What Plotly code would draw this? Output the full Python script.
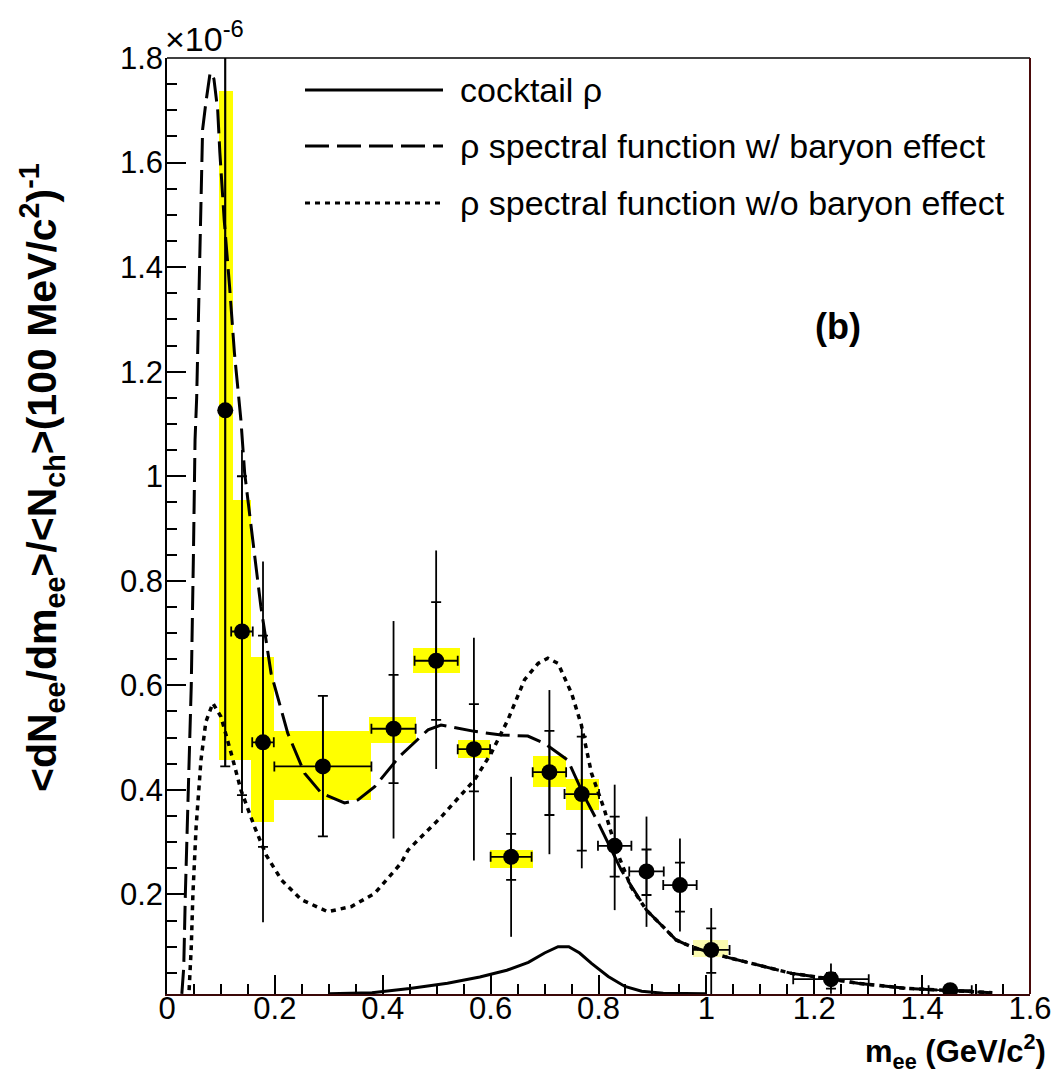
import plotly.graph_objects as go

# ---------------- data (y in units of 1e-6) ----------------
# data points
pt_x = [0.108, 0.139, 0.178, 0.289, 0.420, 0.499, 0.569, 0.638, 0.709, 0.769,
        0.830, 0.889, 0.951, 1.009, 1.231, 1.452]
pt_y = [1.126, 0.703, 0.491, 0.445, 0.517, 0.647, 0.478, 0.272, 0.434, 0.392,
        0.293, 0.244, 0.218, 0.094, 0.038, 0.017]
# total error band ends (outer line)
tot_hi = [2.00, 1.05, 0.837, 0.580, 0.723, 0.858, 0.691, 0.425, 0.591, 0.524,
          0.410, 0.349, 0.307, 0.174, 0.068, 0.030]
tot_lo = [0.445, 0.356, 0.147, 0.311, 0.307, 0.440, 0.265, 0.119, 0.277, 0.250,
          0.170, 0.138, 0.129, 0.000, 0.010, 0.005]
# statistical error ends (small ticks)
stat_hi = [2.00, 1.00, 0.695, 0.580, 0.620, 0.759, 0.564, 0.316, 0.513, 0.502,
           0.349, 0.286, 0.261, 0.135, 0.050, 0.025]
stat_lo = [0.445, 0.390, 0.291, 0.311, 0.413, 0.534, 0.397, 0.228, 0.352, 0.284,
           0.234, 0.199, 0.167, 0.050, 0.020, 0.010]
# horizontal half widths
x_err = [0.0, 0.020, 0.020, 0.090, 0.041, 0.040, 0.030, 0.038, 0.031, 0.032,
         0.031, 0.032, 0.031, 0.034, 0.070, 0.040]

# systematic boxes
box_x0 = [0.097, 0.097, 0.156, 0.199, 0.374, 0.456, 0.539, 0.598, 0.678, 0.740, 0.975]
box_x1 = [0.122, 0.156, 0.199, 0.378, 0.462, 0.543, 0.598, 0.678, 0.740, 0.800, 1.040]
box_y0 = [0.520, 0.457, 0.339, 0.381, 0.490, 0.623, 0.461, 0.250, 0.406, 0.362, 0.080]
box_y1 = [1.736, 0.955, 0.655, 0.512, 0.540, 0.671, 0.496, 0.285, 0.464, 0.420, 0.113]

# rho spectral function with baryon effect (dashed)
wb_x = [0.0275, 0.031, 0.034, 0.040, 0.045, 0.049, 0.052, 0.055, 0.060, 0.063,
        0.066, 0.072, 0.080, 0.087, 0.094, 0.098, 0.106, 0.116, 0.125, 0.137,
        0.144, 0.159, 0.174, 0.193, 0.224, 0.255, 0.286, 0.329, 0.354, 0.385,
        0.416, 0.431, 0.484, 0.508, 0.570, 0.620, 0.669, 0.700, 0.743, 0.774,
        0.800, 0.818, 0.842, 0.889, 0.944, 0.972, 1.034, 1.096, 1.158, 1.220,
        1.281, 1.374, 1.467, 1.530]
wb_y = [0.010, 0.060, 0.200, 0.450, 0.600, 0.850, 1.070, 1.150, 1.395, 1.555,
        1.663, 1.714, 1.772, 1.760, 1.700, 1.619, 1.491, 1.363, 1.236, 1.108,
        1.006, 0.878, 0.751, 0.623, 0.508, 0.432, 0.394, 0.375, 0.381, 0.406,
        0.445, 0.464, 0.515, 0.524, 0.512, 0.505, 0.503, 0.489, 0.457, 0.387,
        0.336, 0.298, 0.247, 0.170, 0.113, 0.100, 0.081, 0.065, 0.049, 0.040,
        0.030, 0.020, 0.016, 0.012]

# rho spectral function without baryon effect (dotted)
nb_x = [0.041, 0.045, 0.048, 0.054, 0.063, 0.072, 0.085, 0.100, 0.119, 0.137,
        0.162, 0.184, 0.212, 0.249, 0.298, 0.342, 0.385, 0.434, 0.447, 0.509,
        0.570, 0.601, 0.632, 0.663, 0.688, 0.706, 0.725, 0.750, 0.768, 0.787,
        0.811, 0.833, 0.860, 0.889, 0.944, 0.972, 1.034, 1.096, 1.158, 1.220,
        1.281, 1.374, 1.467, 1.530]
nb_y = [0.017, 0.100, 0.200, 0.330, 0.457, 0.530, 0.566, 0.540, 0.470, 0.400,
        0.330, 0.275, 0.228, 0.190, 0.167, 0.177, 0.202, 0.260, 0.285, 0.349,
        0.419, 0.470, 0.534, 0.611, 0.642, 0.652, 0.642, 0.585, 0.525, 0.432,
        0.362, 0.285, 0.215, 0.170, 0.113, 0.100, 0.081, 0.065, 0.049, 0.040,
        0.030, 0.020, 0.016, 0.012]

# cocktail rho (solid)
ck_x = [0.300, 0.380, 0.450, 0.520, 0.580, 0.630, 0.670, 0.700, 0.725, 0.745,
        0.765, 0.787, 0.818, 0.849, 0.880, 0.920, 1.000]
ck_y = [0.010, 0.012, 0.020, 0.030, 0.042, 0.055, 0.070, 0.088, 0.100, 0.100,
        0.088, 0.068, 0.043, 0.024, 0.015, 0.011, 0.010]

x_ticks = [0, 0.2, 0.4, 0.6, 0.8, 1.0, 1.2, 1.4, 1.6]
x_ticktext = ["0", "0.2", "0.4", "0.6", "0.8", "1", "1.2", "1.4", "1.6"]
y_ticks = [0.2, 0.4, 0.6, 0.8, 1.0, 1.2, 1.4, 1.6, 1.8]
y_ticktext = ["0.2", "0.4", "0.6", "0.8", "1", "1.2", "1.4", "1.6", "1.8"]

legend_labels = ["cocktail \u03c1",
                 "\u03c1 spectral function w/ baryon effect",
                 "\u03c1 spectral function w/o baryon effect"]

# ---------------- figure ----------------
W, H = 1062, 1084
L, R, T, B = 159, 40, 50, 98
pw, ph = W - L - R, H - T - B


def px(xp):
    return (xp - L) / pw


def py(yp):
    return (H - B - yp) / ph


FONT = "Liberation Sans, Arial, Helvetica, sans-serif"

fig = go.Figure()

# systematic boxes
fig.add_trace(go.Bar(
    x=[(a + b) / 2 for a, b in zip(box_x0, box_x1)],
    width=[b - a for a, b in zip(box_x0, box_x1)],
    base=box_y0,
    y=[b - a for a, b in zip(box_y0, box_y1)],
    marker=dict(color=["#ffff00"] * 10 + ["#fbfbb0"], line=dict(width=0)),
    showlegend=False, hoverinfo="skip"))

# curves
fig.add_trace(go.Scatter(x=ck_x, y=ck_y, mode="lines",
                         line=dict(color="black", width=3), showlegend=False))
fig.add_trace(go.Scatter(x=nb_x, y=nb_y, mode="lines",
                         line=dict(color="black", width=3.5, dash="5px,5px"),
                         showlegend=False))
fig.add_trace(go.Scatter(x=wb_x, y=wb_y, mode="lines",
                         line=dict(color="black", width=3, dash="24px,8px"),
                         showlegend=False))

# total error lines (no caps)
fig.add_trace(go.Scatter(
    x=pt_x, y=pt_y, mode="markers", marker=dict(size=1, color="rgba(0,0,0,0)"),
    error_y=dict(type="data", symmetric=False,
                 array=[h - y for h, y in zip(tot_hi, pt_y)],
                 arrayminus=[y - l for l, y in zip(tot_lo, pt_y)],
                 width=0, thickness=1.8, color="black"),
    showlegend=False, hoverinfo="skip"))

# statistical errors (ticks) + horizontal bars + markers
fig.add_trace(go.Scatter(
    x=pt_x, y=pt_y, mode="markers",
    marker=dict(size=16, color="black", symbol="circle"),
    error_y=dict(type="data", symmetric=False,
                 array=[h - y for h, y in zip(stat_hi, pt_y)],
                 arrayminus=[y - l for l, y in zip(stat_lo, pt_y)],
                 width=5, thickness=1.8, color="black"),
    error_x=dict(type="data", array=x_err, width=5, thickness=1.8, color="black"),
    showlegend=False))

# ---------------- layout ----------------
fig.update_layout(
    width=W, height=H,
    margin=dict(l=L, r=R, t=T, b=B),
    paper_bgcolor="white", plot_bgcolor="white",
    barmode="overlay", bargap=0,
    font=dict(family=FONT, color="black"),
    xaxis=dict(range=[0, 1.6], showgrid=False, zeroline=False,
               tickvals=x_ticks, ticktext=x_ticktext,
               ticks="inside", ticklen=19, tickwidth=1.5, tickcolor="black",
               minor=dict(dtick=0.05, tick0=0, ticks="inside", ticklen=10,
                          tickwidth=1.5, tickcolor="black", showgrid=False),
               showline=True, linecolor="#3a0808", linewidth=2,
               tickfont=dict(size=31, family=FONT), ticklabelstandoff=-14),
    yaxis=dict(range=[0.0096, 1.8], showgrid=False, zeroline=False,
               tickvals=y_ticks, ticktext=y_ticktext,
               ticks="inside", ticklen=19, tickwidth=1.5, tickcolor="black",
               minor=dict(dtick=0.05, tick0=0, ticks="inside", ticklen=10,
                          tickwidth=1.5, tickcolor="black", showgrid=False),
               showline=True, linecolor="black", linewidth=1.5,
               tickfont=dict(size=31, family=FONT), ticklabelstandoff=-4),
)

# top and right frame lines
fig.add_shape(type="line", xref="paper", yref="paper", x0=0, x1=1, y0=1, y1=1,
              line=dict(color="black", width=1.5))
fig.add_shape(type="line", xref="paper", yref="paper", x0=1, x1=1, y0=0, y1=1,
              line=dict(color="#4a0a0a", width=2))

# manual legend
leg_rows = [82, 138, 195]
leg_dash = ["solid", "24px,8px", "5px,5px"]
for yrow, dsh, lab in zip(leg_rows, leg_dash, legend_labels):
    fig.add_shape(type="line", xref="paper", yref="paper",
                  x0=px(297), x1=px(435), y0=py(yrow), y1=py(yrow),
                  line=dict(color="black", width=3, dash=dsh))
    fig.add_annotation(xref="paper", yref="paper", x=px(450), y=py(yrow),
                       xanchor="left", yanchor="middle", text=lab,
                       showarrow=False, font=dict(size=34, family=FONT))

# texts
fig.add_annotation(xref="paper", yref="paper", x=px(155), y=py(28),
                   xanchor="left", yanchor="middle",
                   text="\u00d710<sup>-6</sup>", showarrow=False,
                   font=dict(size=34, family=FONT))
fig.add_annotation(xref="paper", yref="paper", x=px(830), y=py(318),
                   xanchor="center", yanchor="middle", text="<b>(b)</b>",
                   showarrow=False, font=dict(size=36, family=FONT))
fig.add_annotation(xref="paper", yref="paper", x=px(1040), y=py(1043),
                   xanchor="right", yanchor="middle",
                   text="<b>m<sub>ee</sub> (GeV/c<sup>2</sup>)</b>",
                   showarrow=False, font=dict(size=31, family=FONT))
fig.add_annotation(xref="paper", yref="paper", x=px(34), y=py(470),
                   xanchor="center", yanchor="middle", textangle=-90,
                   text="<b>&lt;dN<sub>ee</sub>/dm<sub>ee</sub>&gt;/&lt;N<sub>ch</sub>&gt;(100 MeV/c<sup>2</sup>)<sup>-1</sup></b>",
                   showarrow=False, font=dict(size=41, family=FONT))

fig.write_html("out.html")
